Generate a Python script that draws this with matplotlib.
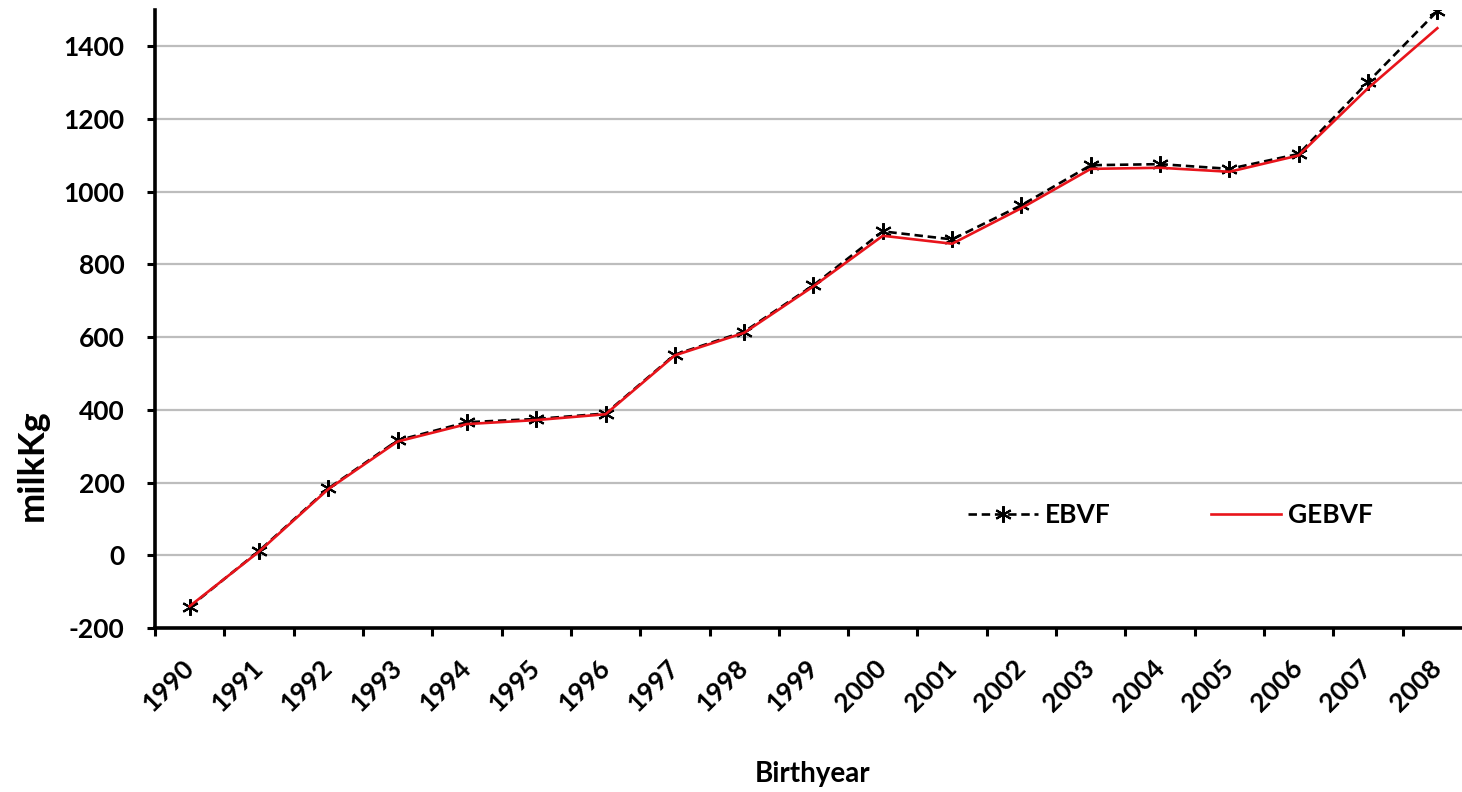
import matplotlib.pyplot as plt

# Genetic trend for milk yield by birth year
years = [str(y) for y in range(1990, 2009)]
ebvf = [-142, 12, 184, 316, 366, 375, 390, 552, 615, 743, 891, 869, 963,
        1073, 1076, 1063, 1104, 1302, 1497]
gebvf = [-140, 10, 182, 313, 361, 372, 388, 550, 612, 740, 879, 857, 955,
         1063, 1066, 1055, 1100, 1285, 1450]

plt.rcParams['font.family'] = ['Lato', 'DejaVu Sans']
plt.rcParams['font.weight'] = 'bold'
plt.rcParams['axes.unicode_minus'] = False

fig = plt.figure(figsize=(14.62, 7.92), dpi=100)
ax = fig.add_axes([155 / 1462, 164 / 792, 1317 / 1462, 618 / 792])

x = list(range(len(years)))
ax.plot(x, ebvf, color='black', lw=1.9, ls=(0, (3.2, 1.8)),
        marker=(6, 2, 0), ms=12, mew=1.5, mec='black', label='EBVF', zorder=3)
ax.plot(x, gebvf, color='#e8141b', lw=1.9, label='GEBVF', zorder=4)

ax.set_xlim(-0.5, len(years) - 0.5)
ax.set_ylim(-200, 1500)
ax.set_yticks(range(-200, 1401, 200))
ax.set_xticks([i - 0.5 for i in range(len(years) + 1)])
ax.set_xticklabels([])
# category labels sit at the centre of each slot
ax.set_xticks(x, minor=True)
ax.set_xticklabels(years, minor=True, rotation=45, ha='right', va='center',
                   rotation_mode='anchor', fontsize=19, fontweight='bold')
ax.tick_params(axis='x', which='minor', length=0, pad=26)
ax.tick_params(axis='x', which='major', length=6, width=2.2, direction='out')
ax.tick_params(axis='y', length=6, width=2.2, direction='out',
               labelsize=19, pad=16)
for lab in ax.get_yticklabels():
    lab.set_fontweight('bold')

ax.grid(axis='y', color='#bdbdbd', lw=1.6)
ax.set_axisbelow(True)
for side in ('top', 'right'):
    ax.spines[side].set_visible(False)
for side in ('left', 'bottom'):
    ax.spines[side].set_linewidth(2.6)

fig.text(32 / 1462, 1 - 465 / 792, 'milkKg', rotation=90, ha='center',
         va='center', fontsize=26, fontweight='bold')
fig.text(813 / 1462, 1 - 774 / 792, 'Birthyear', ha='center', va='center',
         fontsize=20, fontweight='bold')

fig.legend(loc='center left', bbox_to_anchor=(968 / 1462, 1 - 515 / 792),
           ncol=2, frameon=False, handlelength=2.65,
           handletextpad=0.27, columnspacing=3.8, borderpad=0,
           borderaxespad=0, prop={'weight': 'bold', 'size': 19})

fig.savefig('out.png', dpi=100)
